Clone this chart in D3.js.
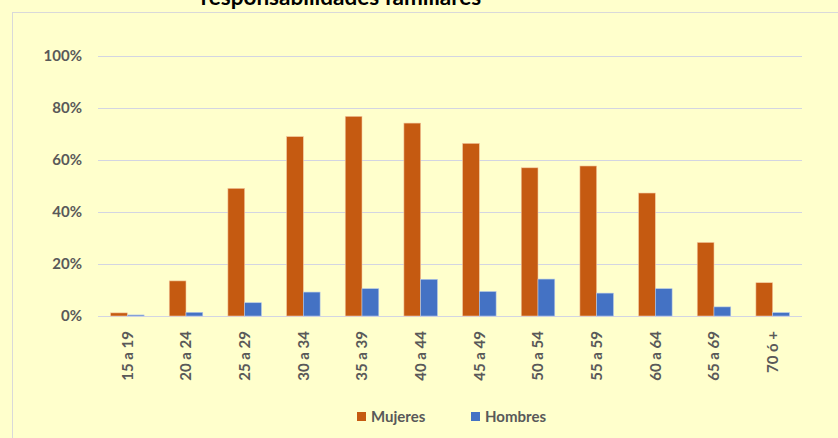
<!DOCTYPE html>
<html><head><meta charset="utf-8">
<script src="https://cdn.jsdelivr.net/npm/d3@7"></script>
<style>html,body{margin:0;padding:0;background:#FFFFCC;}svg{display:block;}</style>
</head><body>
<svg id="c" width="838" height="438"></svg>
<script>
const categories = ["15 a 19","20 a 24","25 a 29","30 a 34","35 a 39","40 a 44","45 a 49","50 a 54","55 a 59","60 a 64","65 a 69","70 ó +"];
const mujeres = [0.012,0.135,0.491,0.690,0.768,0.742,0.664,0.570,0.577,0.473,0.283,0.128];
const hombres = [0.004,0.014,0.051,0.092,0.105,0.141,0.094,0.142,0.088,0.105,0.035,0.013];
const yTicks = [0,0.2,0.4,0.6,0.8,1.0];
const seriesNames = ["Mujeres","Hombres"];
const colors = ["#C55A11","#4472C4"];
const title = "responsabilidades familiares";

const svg = d3.select("#c");
const W = 838, H = 438;
const font = "Lato, 'Open Sans', sans-serif";
svg.append("rect").attr("x",0).attr("y",0).attr("width",W).attr("height",H).attr("fill","#FFFFCC");
// chart frame
svg.append("rect").attr("x",12.5).attr("y",12.5).attr("width",840).attr("height",440)
  .attr("fill","#FFFFCC").attr("stroke","#D9D9D9").attr("stroke-width",1);

svg.append("text").attr("x",341).attr("y",5).attr("text-anchor","middle")
  .attr("font-family",font).attr("font-weight","bold").attr("font-size",22.5).attr("fill","#000")
  .text(title);

const pLeft = 98, pRight = 802, pTop = 56, pBottom = 316;
const x0 = d3.scaleBand().domain(categories).range([pLeft,pRight]);
const y = d3.scaleLinear().domain([0,1]).range([pBottom,pTop]);

// gridlines
svg.append("g").selectAll("line").data(yTicks).join("line")
  .attr("x1",pLeft).attr("x2",pRight)
  .attr("y1",d=>Math.round(y(d))+0.5).attr("y2",d=>Math.round(y(d))+0.5)
  .attr("stroke","#D3D5E2").attr("stroke-width",1);

// y axis labels
const yAxis = d3.axisLeft(y).tickValues(yTicks).tickFormat(d3.format(".0%")).tickSize(0).tickPadding(0);
const gy = svg.append("g").attr("transform",`translate(82,0)`).call(yAxis);
gy.select(".domain").remove();
gy.selectAll("text").attr("font-family",font).attr("font-weight","bold").attr("font-size",15).attr("fill","#595959");

// bars
const bw = x0.bandwidth()*0.2857;
const groups = svg.append("g").selectAll("g").data(categories).join("g");
groups.append("rect")
  .attr("x",(d)=>x0(d)+x0.bandwidth()/2-bw)
  .attr("y",(d,i)=>y(mujeres[i]))
  .attr("width",bw).attr("height",(d,i)=>pBottom-y(mujeres[i]))
  .attr("fill",colors[0]).attr("stroke","#F4C9A0").attr("stroke-width",0.6);
groups.append("rect")
  .attr("x",(d)=>x0(d)+x0.bandwidth()/2)
  .attr("y",(d,i)=>y(hombres[i]))
  .attr("width",bw).attr("height",(d,i)=>pBottom-y(hombres[i]))
  .attr("fill",colors[1]).attr("stroke","#B4C7E7").attr("stroke-width",0.6);

// x axis labels
const xAxis = d3.axisBottom(x0).tickSize(0).tickPadding(0);
const gx = svg.append("g").attr("transform",`translate(0,${pBottom})`).call(xAxis);
gx.select(".domain").remove();
gx.selectAll("text")
  .attr("font-family",font).attr("font-weight","bold").attr("font-size",15).attr("fill","#595959")
  .attr("transform","rotate(-90)").attr("text-anchor","end").attr("dy","0.35em").attr("x",-15).attr("y",0);

// legend
const lg = svg.append("g");
const lx = [357,471];
seriesNames.forEach((n,i)=>{
  lg.append("rect").attr("x",lx[i]).attr("y",412).attr("width",9).attr("height",9).attr("fill",colors[i]);
  lg.append("text").attr("x",lx[i]+14).attr("y",421.5).attr("font-family",font).attr("font-weight","bold")
    .attr("font-size",15).attr("fill","#595959").text(n);
});
</script>
</body></html>
